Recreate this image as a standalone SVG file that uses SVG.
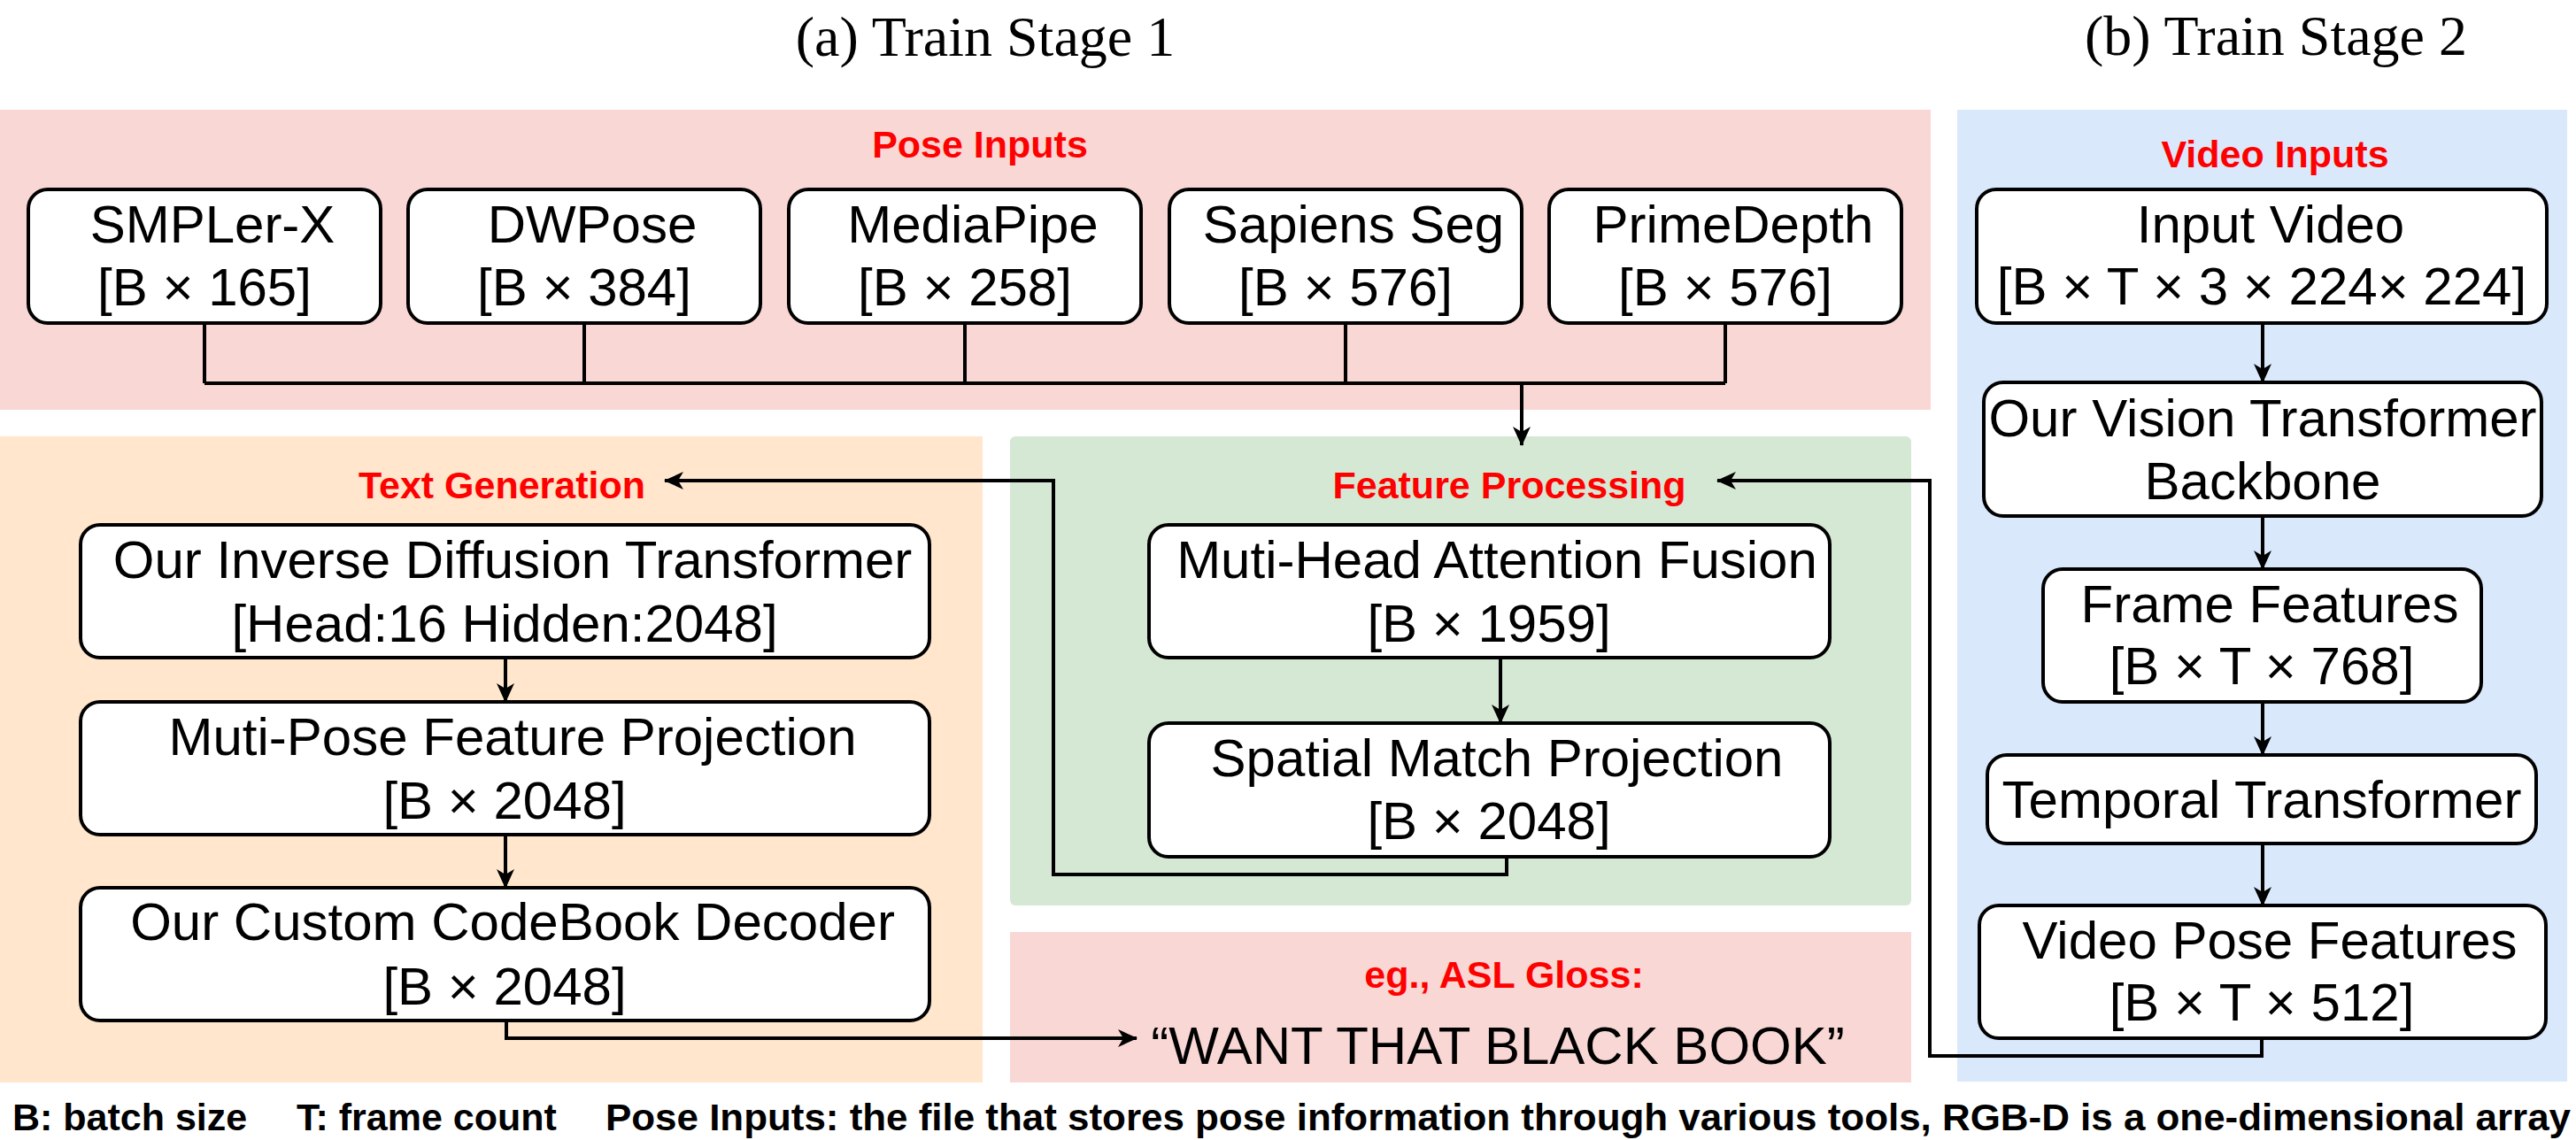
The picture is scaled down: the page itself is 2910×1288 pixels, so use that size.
<svg xmlns="http://www.w3.org/2000/svg" width="2910" height="1288" viewBox="0 0 2910 1288">
<defs>
<style>
.n rect{fill:#fff;stroke:#000;stroke-width:4}
.t{font-family:"Liberation Sans",Arial,sans-serif;font-size:60px;text-anchor:middle;fill:#000}
.lbl{font-family:"Liberation Sans",Arial,sans-serif;font-size:43px;font-weight:bold;text-anchor:middle;fill:#ff0000}
.ttl{font-family:"Liberation Serif","Times New Roman",serif;font-size:64px;text-anchor:middle;fill:#000}
.ft{font-family:"Liberation Sans",Arial,sans-serif;font-size:43px;font-weight:bold;fill:#000}
.c{fill:none;stroke:#000;stroke-width:4}
.ca{fill:none;stroke:#000;stroke-width:4;marker-end:url(#ah)}
</style>
<marker id="ah" markerUnits="userSpaceOnUse" markerWidth="22" markerHeight="20" viewBox="0 0 22 20" refX="21" refY="10" orient="auto">
<path d="M0,0 L22,10 L0,20 L6,10 Z" fill="#000"/>
</marker>
</defs>
<rect width="2910" height="1288" fill="#fff"/>

<g id="regions">
<rect x="0" y="124" width="2181" height="339" fill="#f8d7d4"/>
<rect x="2211" y="124" width="689" height="1098" fill="#dae8fc"/>
<rect x="0" y="493" width="1110" height="730" fill="#ffe6cc"/>
<rect x="1141" y="493" width="1018" height="530" rx="6" fill="#d5e8d4"/>
<rect x="1141" y="1053" width="1018" height="170" fill="#f8d7d4"/>
</g>

<g id="titles">
<text class="ttl" x="1113" y="63">(a) Train Stage 1</text>
<text class="ttl" x="2571" y="62">(b) Train Stage 2</text>
</g>

<g id="labels">
<text class="lbl" x="1107" y="178">Pose Inputs</text>
<text class="lbl" x="2570" y="189">Video Inputs</text>
<text class="lbl" x="567" y="563">Text Generation</text>
<text class="lbl" x="1705" y="563">Feature Processing</text>
<text class="lbl" x="1699" y="1116">eg., ASL Gloss:</text>
</g>

<g id="connectors">
<path class="c" d="M231,365 V433 M660,365 V433 M1090,365 V433 M1520,365 V433 M1949,365 V433 M231,433 H1949"/>
<path class="ca" d="M1719,433 V503"/>
<path class="ca" d="M571,743 V793"/>
<path class="ca" d="M571,943 V1003"/>
<path class="ca" d="M572,1153 V1173 H1284"/>
<path class="ca" d="M1695,743 V817"/>
<path class="ca" d="M1702,968 V988 H1190 V543 H751"/>
<path class="ca" d="M2556,365 V432"/>
<path class="ca" d="M2556,583 V643"/>
<path class="ca" d="M2556,793 V853"/>
<path class="ca" d="M2556,953 V1023"/>
<path class="ca" d="M2555,1173 V1193 H2180 V543 H1940"/>
</g>

<g id="smplerx" class="n"><rect x="32" y="214" width="398" height="151" rx="22"/><text class="t" x="240" y="274">SMPLer-X</text><text class="t" x="231" y="345">[B × 165]</text></g>
<g id="dwpose" class="n"><rect x="461" y="214" width="398" height="151" rx="22"/><text class="t" x="669" y="274">DWPose</text><text class="t" x="660" y="345">[B × 384]</text></g>
<g id="mediapipe" class="n"><rect x="891" y="214" width="398" height="151" rx="22"/><text class="t" x="1099" y="274">MediaPipe</text><text class="t" x="1090" y="345">[B × 258]</text></g>
<g id="sapiens" class="n"><rect x="1321" y="214" width="398" height="151" rx="22"/><text class="t" x="1529" y="274">Sapiens Seg</text><text class="t" x="1520" y="345">[B × 576]</text></g>
<g id="primedepth" class="n"><rect x="1750" y="214" width="398" height="151" rx="22"/><text class="t" x="1958" y="274">PrimeDepth</text><text class="t" x="1949" y="345">[B × 576]</text></g>

<g id="idt" class="n"><rect x="91" y="593" width="959" height="150" rx="22"/><text class="t" x="579" y="653">Our Inverse Diffusion Transformer</text><text class="t" x="570" y="725">[Head:16 Hidden:2048]</text></g>
<g id="mpfp" class="n"><rect x="91" y="793" width="959" height="150" rx="22"/><text class="t" x="579" y="853">Muti-Pose Feature Projection</text><text class="t" x="570" y="925">[B × 2048]</text></g>
<g id="codebook" class="n"><rect x="91" y="1003" width="959" height="150" rx="22"/><text class="t" x="579" y="1062">Our Custom CodeBook Decoder</text><text class="t" x="570" y="1135">[B × 2048]</text></g>

<g id="mhaf" class="n"><rect x="1298" y="593" width="769" height="150" rx="22"/><text class="t" x="1691" y="653">Muti-Head Attention Fusion</text><text class="t" x="1682" y="725">[B × 1959]</text></g>
<g id="smp" class="n"><rect x="1298" y="817" width="769" height="151" rx="22"/><text class="t" x="1691" y="877">Spatial Match Projection</text><text class="t" x="1682" y="948">[B × 2048]</text></g>

<g id="gloss"><text class="t" x="1692" y="1202">“WANT THAT BLACK BOOK”</text></g>

<g id="inputvideo" class="n"><rect x="2233" y="214" width="644" height="151" rx="22"/><text class="t" x="2565" y="274">Input Video</text><text class="t" x="2555" y="344">[B × T × 3 × 224× 224]</text></g>
<g id="vit" class="n"><rect x="2241" y="432" width="630" height="151" rx="22"/><text class="t" x="2556" y="493">Our Vision Transformer</text><text class="t" x="2556" y="564">Backbone</text></g>
<g id="frame" class="n"><rect x="2308" y="643" width="495" height="150" rx="22"/><text class="t" x="2564" y="703">Frame Features</text><text class="t" x="2555" y="773">[B × T × 768]</text></g>
<g id="temporal" class="n"><rect x="2245" y="853" width="620" height="100" rx="22"/><text class="t" x="2555" y="924">Temporal Transformer</text></g>
<g id="vpf" class="n"><rect x="2236" y="1023" width="640" height="150" rx="22"/><text class="t" x="2564" y="1083">Video Pose Features</text><text class="t" x="2555" y="1153">[B × T × 512]</text></g>

<g id="footer">
<text class="ft" x="14" y="1277">B: batch size</text>
<text class="ft" x="335" y="1277">T: frame count</text>
<text class="ft" x="684" y="1277" textLength="2220" lengthAdjust="spacingAndGlyphs">Pose Inputs: the file that stores pose information through various tools, RGB-D is a one-dimensional array</text>
</g>
</svg>
